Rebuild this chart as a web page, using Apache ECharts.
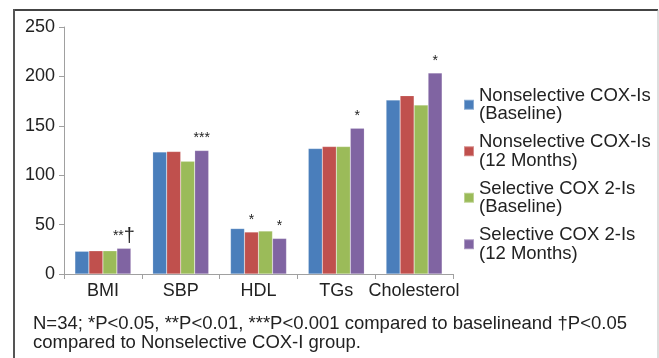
<!DOCTYPE html>
<html>
<head>
<meta charset="utf-8">
<script src="https://cdn.jsdelivr.net/npm/echarts@6/dist/echarts.min.js"></script>
<style>
html,body{margin:0;padding:0;background:#fff;}
#c{width:659px;height:358px;}
</style>
</head>
<body>
<div id="c"></div>
<script>
var categories = ['BMI', 'SBP', 'HDL', 'TGs', 'Cholesterol'];
var seriesNames = [
  'Nonselective COX-Is\n(Baseline)',
  'Nonselective COX-Is\n(12 Months)',
  'Selective COX 2-Is\n(Baseline)',
  'Selective COX 2-Is\n(12 Months)'
];
var nonselBaseline = [23, 123.5, 46, 127, 176];
var nonsel12 = [23.5, 124, 42.5, 129, 180.5];
var selBaseline = [23.5, 114, 43.5, 129, 171];
var sel12 = [26, 125, 36, 147.5, 203.5];
// significance marks per series, per category
var marks = [
  ['', '', '', '', ''],
  ['', '', '*', '', ''],
  ['', '', '', '', ''],
  ['**†', '***', '*', '*', '*']
];
var colors = ['#4a7ebb', '#c0504d', '#9bbb59', '#8064a2'];
var footnote = 'N=34; *P<0.05, **P<0.01, ***P<0.001 compared to baselineand †P<0.05\ncompared to Nonselective COX-I group.';

var allValues = [nonselBaseline, nonsel12, selBaseline, sel12];
var FONT = '"Liberation Sans", Arial, Helvetica, sans-serif';

function markFormatter(m) {
  return m.replace(/(\*+)/g, '{s|$1}').replace(/†/g, '{d|†}');
}

var series = allValues.map(function (vals, si) {
  return {
    name: seriesNames[si],
    type: 'bar',
    barGap: '0%',
    barCategoryGap: '28%',
    itemStyle: { color: colors[si], borderColor: 'rgba(255,255,255,0.35)', borderWidth: 0.5 },
    data: vals.map(function (v, ci) {
      var m = marks[si][ci];
      if (!m) return v;
      return {
        value: v,
        label: {
          show: true,
          position: 'top',
          distance: m.indexOf('†') >= 0 ? 2 : 5,
          formatter: markFormatter(m),
          rich: {
            s: { fontFamily: FONT, fontSize: 14, color: '#222' },
            d: { fontFamily: FONT, fontSize: 20, color: '#222' }
          }
        }
      };
    })
  };
});

var chart = echarts.init(document.getElementById('c'));
chart.setOption({
  animation: false,
  backgroundColor: '#fff',
  grid: { left: 64, right: 206, top: 27, bottom: 84, containLabel: false },
  legend: {
    orient: 'vertical',
    left: 458,
    top: 81,
    itemWidth: 10,
    itemHeight: 10,
    itemGap: 9,
    icon: 'rect',
    textStyle: { fontFamily: FONT, fontSize: 18.5, color: '#222', lineHeight: 18.5, padding: [0, 0, 0, 0] },
    data: seriesNames
  },
  xAxis: {
    type: 'category',
    data: categories,
    axisLine: { lineStyle: { color: '#a0a0a0', width: 1 } },
    axisTick: { show: true, length: 5, lineStyle: { color: '#a0a0a0' } },
    axisLabel: { fontFamily: FONT, fontSize: 18, color: '#222', margin: 8, interval: 0 }
  },
  yAxis: {
    type: 'value',
    min: 0,
    max: 250,
    interval: 50,
    splitLine: { show: false },
    axisLine: { show: true, lineStyle: { color: '#a0a0a0', width: 1 } },
    axisTick: { show: true, length: 5, lineStyle: { color: '#a0a0a0' } },
    axisLabel: { fontFamily: FONT, fontSize: 18, color: '#222', margin: 9 }
  },
  series: series,
  graphic: [
    { type: 'line', shape: { x1: 14, y1: 10, x2: 658, y2: 10 }, style: { stroke: '#444', lineWidth: 2 } },
    { type: 'line', shape: { x1: 14, y1: 9, x2: 14, y2: 358 }, style: { stroke: '#555', lineWidth: 2 } },
    { type: 'line', shape: { x1: 658, y1: 10, x2: 658, y2: 358 }, style: { stroke: '#bbb', lineWidth: 1 } },
    {
      type: 'text',
      left: 33,
      top: 314,
      style: { text: footnote, font: '18.5px ' + FONT, fill: '#222', lineHeight: 19 }
    }
  ]
});
</script>
</body>
</html>
